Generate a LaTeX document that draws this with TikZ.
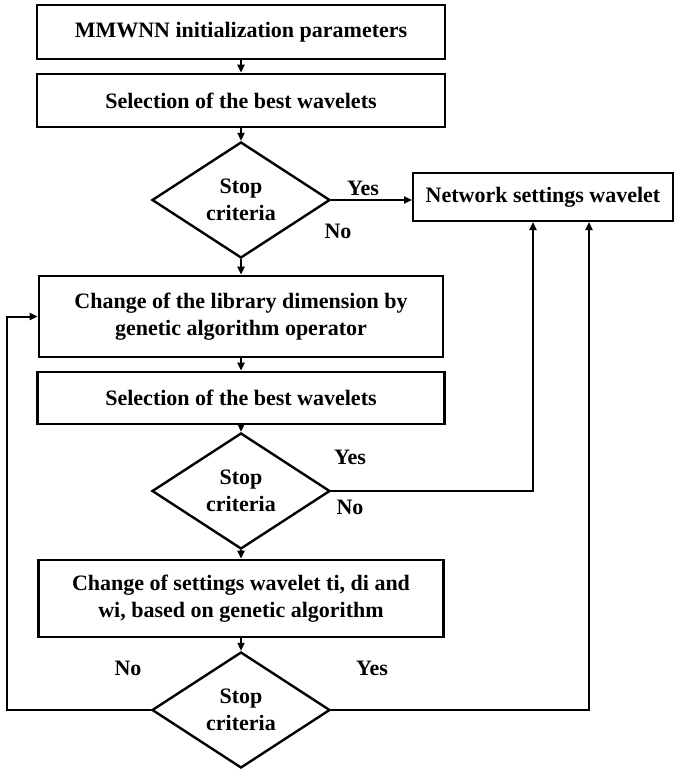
\documentclass[tikz,border=0pt]{standalone}
\usepackage{fontspec}
\setmainfont{Liberation Serif}
\usetikzlibrary{shapes.geometric,arrows.meta,calc}
\begin{document}
\begin{tikzpicture}[x=1pt,y=-1pt,
  every node/.style={font=\fontsize{22}{27}\selectfont\bfseries},
  procbox/.style={draw,line width=2.6pt,rectangle,inner sep=0pt,align=center},
  decide/.style={draw,line width=2.4pt,diamond,inner sep=0pt,minimum width=178pt,minimum height=116pt,align=center},
  conn/.style={line width=2pt},
  arr/.style={line width=2pt,-{Triangle[length=8pt,width=7pt]}},
  lbl/.style={inner sep=0pt}]
\useasboundingbox (0,0) rectangle (677,770);
\node[procbox,minimum width=408pt,minimum height=54pt] (b1) at (241,32) {MMWNN initialization parameters};
\node[procbox,minimum width=408pt,minimum height=53pt] (b2) at (241,100.5) {Selection of the best wavelets};
\node[decide] (d1) at (241,200) {Stop\\criteria};
\node[procbox,line width=2pt,minimum width=260pt,minimum height=48pt] (net) at (543,197) {Network settings wavelet};
\node[procbox,minimum width=404pt,minimum height=81pt] (b3) at (241,316.5) {Change of the library dimension by\\genetic algorithm operator};
\node[procbox,minimum width=407pt,minimum height=52pt] (b4) at (241,398) {Selection of the best wavelets};
\node[decide] (d2) at (241,491) {Stop\\criteria};
\node[procbox,minimum width=405pt,minimum height=77pt] (b5) at (241,598.5) {Change of settings wavelet ti, di and\\wi, based on genetic algorithm};
\node[decide] (d3) at (241,710) {Stop\\criteria};

\node[lbl] (y1) at (363,188) {Yes};
\node[lbl] (n1) at (338,231) {No};
\node[lbl] (y2) at (350,457) {Yes};
\node[lbl] (n2) at (350,507) {No};
\node[lbl] (n3) at (128,668) {No};
\node[lbl] (y3) at (372,668) {Yes};

\coordinate (inA) at ([xshift=-10pt]net.south);
\coordinate (inB) at ([xshift=46pt]net.south);
\coordinate (loopL) at (6.5,710);

\draw[arr] (b1) -- (b2);
\draw[arr] (b2) -- (d1);
\draw[arr] (d1.east) -- (d1.east -| net.west);
\draw[arr] (d1) -- (b3);
\draw[arr] (b3) -- (b4);
\draw[arr] (b4) -- (d2);
\draw[arr] (d2.east) -| (inA);
\draw[arr] (d2) -- (b5);
\draw[arr] (b5) -- (d3);
\draw[arr] (d3.east) -| (inB);
\draw[arr] (d3.west) -- (loopL) |- (b3.west);
\end{tikzpicture}
\end{document}
